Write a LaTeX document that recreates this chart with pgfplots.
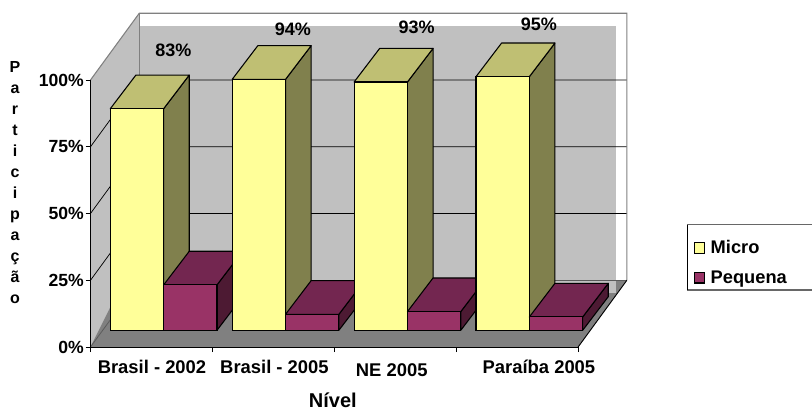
\documentclass[border=0pt]{standalone}
\usepackage{pgfplots}
\usepackage{fontspec}
\setmainfont{Liberation Sans}
\pgfplotsset{compat=1.18}

\definecolor{microfront}{HTML}{FFFF99}
\definecolor{microtop}{HTML}{BFBF73}
\definecolor{microside}{HTML}{80804D}
\definecolor{pequenafront}{HTML}{993366}
\definecolor{pequenatop}{HTML}{732650}
\definecolor{pequenaside}{HTML}{4D1A33}
\definecolor{wallgrey}{HTML}{C0C0C0}
\definecolor{floorgrey}{HTML}{808080}

% Oblique depth of a bar, in axis units
\newcommand\dx{0.21}
\newcommand\dy{12.6}

% One bar: #1 left edge, #2 right edge, #3 value, #4 front, #5 side, #6 top colour
\newcommand\prismbar[6]{%
  \addplot[forget plot, fill=#5, draw=black, line width=0.8pt, line join=round]
    coordinates {(#2,0) (#2+\dx,\dy) (#2+\dx,#3+\dy) (#2,#3)} -- cycle;
  \addplot[forget plot, fill=#6, draw=black, line width=0.8pt, line join=round]
    coordinates {(#1,#3) (#2,#3) (#2+\dx,#3+\dy) (#1+\dx,#3+\dy)} -- cycle;
  \addplot[forget plot, ybar, bar width=0.4375, fill=#4, draw=black, line width=0.8pt]
    coordinates {({(#1+#2)/2},#3)};
}

\begin{document}
\begin{tikzpicture}
\path[use as bounding box] (0,0) rectangle (609pt,307.5pt);
\begin{axis}[
  at={(67.875pt,47.25pt)}, anchor=south west,
  scale only axis, width=365.7pt, height=200.25pt,
  xmin=-0.6, xmax=3.4, ymin=-6.25, ymax=93.75,
  clip=false, axis on top,
  axis x line*=bottom, axis y line*=left,
  axis line style={-, black, line width=0.7pt},
  tick align=outside, major tick length=3.75pt,
  tick style={black, line width=0.7pt},
  ytick={-6.25,18.75,43.75,68.75,93.75},
  yticklabels={0\%,25\%,50\%,75\%,100\%},
  yticklabel style={font=\fontsize{13.2pt}{15pt}\selectfont\bfseries, inner sep=0pt, xshift=-1pt},
  xtick={-0.6,0.4,1.4,2.4,3.4},
  xticklabels={,,,,},
  extra x ticks={-0.0955,0.909,1.871,3.079},
  extra x tick labels={Brasil - 2002,Brasil - 2005,\raisebox{-2pt}{NE 2005},Paraíba 2005},
  extra x tick style={major tick length=0pt,
    xticklabel style={font=\fontsize{13.8pt}{15pt}\selectfont\bfseries, anchor=base, yshift=-20pt, inner sep=0pt}},
  xlabel={Nível},
  every axis x label/.style={at={(axis cs:1.388,-28.9)}, anchor=base, inner sep=0pt,
    font=\fontsize{15pt}{15pt}\selectfont\bfseries},
  ylabel={P\\a\\r\\t\\i\\c\\i\\p\\a\\ç\\ã\\o},
  every axis y label/.style={at={(axis cs:-0.6,0)}, xshift=-56.6pt, yshift=111pt, anchor=center, align=center,
    font=\fontsize{12pt}{15.75pt}\selectfont\bfseries},
  legend style={at={(axis cs:4.315,37.79)}, anchor=north west, draw=none, fill=none,
    font=\fontsize{13.7pt}{15pt}\selectfont\bfseries, row sep=7.2pt, inner xsep=3pt, inner ysep=6pt},
  legend image code/.code={\draw[#1, line width=0.8pt] (0pt,-3.9pt) rectangle (7.8pt,3.9pt);},
]
% Floor of the chart box
\addplot[forget plot, fill=floorgrey, draw=none]
  coordinates {(-0.6,-6.25) (-0.2,18.75) (3.8,18.75) (3.4,-6.25)} -- cycle;
% Side wall
\addplot[forget plot, fill=wallgrey, draw=none]
  coordinates {(-0.6,-6.25) (-0.2,18.75) (-0.2,118.75) (-0.6,93.75)} -- cycle;
% Back wall fill
\addplot[forget plot, fill=wallgrey, draw=none]
  coordinates {(-0.2,13.97) (3.711,13.97) (3.711,113.97) (-0.2,113.97)} -- cycle;
\addplot[forget plot, fill=floorgrey, draw=none]
  coordinates {(-0.6,-6.25) (-0.2,18.75) (-0.2,13.97) (-0.38,13.97)} -- cycle;
% Gridlines along the side and back walls
\addplot[forget plot, black, line width=0.55pt] coordinates {(-0.6,18.75) (-0.2,43.75) (3.8,43.75)};
\addplot[forget plot, black, line width=0.55pt] coordinates {(-0.6,43.75) (-0.2,68.75) (3.8,68.75)};
\addplot[forget plot, black, line width=0.55pt] coordinates {(-0.6,68.75) (-0.2,93.75) (3.8,93.75)};
\addplot[forget plot, floorgrey!70!black, line width=0.5pt] coordinates {(-0.2,18.75) (3.8,18.75)};
% Box outline
\addplot[forget plot, floorgrey, line width=0.8pt]
  coordinates {(-0.6,93.75) (-0.2,118.75) (3.8,118.75) (3.8,18.75)};
\addplot[forget plot, floorgrey, line width=0.6pt] coordinates {(-0.2,18.75) (-0.2,118.75)};
\addplot[forget plot, floorgrey!70!black, line width=0.6pt] coordinates {(-0.6,-6.25) (-0.2,18.75)};
\addplot[forget plot, black, line width=0.7pt] coordinates {(3.4,-6.25) (3.8,18.75)};
% Bars, left to right so nearer faces overlap correctly
\prismbar{-0.4375}{0}{83}{microfront}{microside}{microtop}
\prismbar{0}{0.4375}{17}{pequenafront}{pequenaside}{pequenatop}
\prismbar{0.5625}{1}{94}{microfront}{microside}{microtop}
\prismbar{1}{1.4375}{6}{pequenafront}{pequenaside}{pequenatop}
\prismbar{1.5625}{2}{93}{microfront}{microside}{microtop}
\prismbar{2}{2.4375}{7}{pequenafront}{pequenaside}{pequenatop}
\prismbar{2.5625}{3}{95}{microfront}{microside}{microtop}
\prismbar{3}{3.4375}{5}{pequenafront}{pequenaside}{pequenatop}
% Share of micro firms above each bar
\node[font=\fontsize{13.5pt}{15pt}\selectfont\bfseries] at (axis cs:0.0792,104.99) {83\%};
\node[font=\fontsize{13.5pt}{15pt}\selectfont\bfseries] at (axis cs:1.061,112.85) {94\%};
\node[font=\fontsize{13.5pt}{15pt}\selectfont\bfseries] at (axis cs:2.076,113.6) {93\%};
\node[font=\fontsize{13.5pt}{15pt}\selectfont\bfseries] at (axis cs:3.079,114.7) {95\%};
% Legend frame, open towards the right margin
\addplot[forget plot, floorgrey!80!black, line width=0.8pt] coordinates {(5.4,39.55) (4.296,39.55)};
\addplot[forget plot, floorgrey!80!black, line width=0.8pt] coordinates {(5.4,15.1) (4.296,15.1)};
\addplot[forget plot, black, line width=0.7pt] coordinates {(4.296,39.55) (4.296,15.1)};
\addlegendimage{fill=microfront, draw=black}
\addlegendentry{\hspace{2pt}\makebox[70pt][l]{Micro}}
\addlegendimage{fill=pequenafront, draw=black}
\addlegendentry{\hspace{2pt}\makebox[70pt][l]{Pequena}}
\end{axis}
\end{tikzpicture}
\end{document}
